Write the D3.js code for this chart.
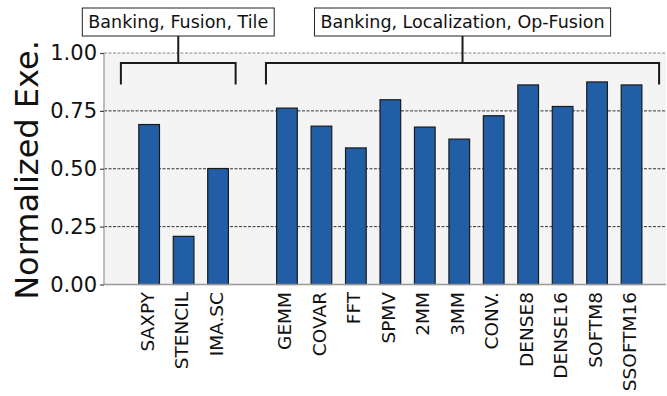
<!DOCTYPE html>
<html>
<head>
<meta charset="utf-8">
<script src="https://cdn.jsdelivr.net/npm/d3@7"></script>
<style>
  html, body { margin: 0; padding: 0; background: #ffffff; }
  svg { display: block; font-family: "DejaVu Sans", sans-serif; }
</style>
</head>
<body>
<svg id="chart" width="667" height="396"></svg>
<script>
// Benchmarks and their slot positions (slot 3 left empty between the groups)
const benchmarks = ["SAXPY", "STENCIL", "IMA.SC", "GEMM", "COVAR", "FFT", "SPMV", "2MM", "3MM", "CONV.", "DENSE8", "DENSE16", "SOFTM8", "SSOFTM16"];
const slots = [0, 1, 2, 4, 5, 6, 7, 8, 9, 10, 11, 12, 13, 14];
const normExe = [0.691, 0.208, 0.501, 0.762, 0.684, 0.590, 0.798, 0.680, 0.628, 0.729, 0.862, 0.769, 0.875, 0.862];
const yTicks = [0, 0.25, 0.5, 0.75, 1.0];

// Optimization groups shown as brackets above the bars
const groupLabels = ["Banking, Fusion, Tile", "Banking, Localization, Op-Fusion"];
const groupStart = [-0.82, 3.39];
const groupEnd = [2.51, 14.8];

const svg = d3.select("#chart");
const margin = { left: 104, right: 1, top: 53, bottom: 111.5 };
const W = 667, H = 396;
const plotW = W - margin.left - margin.right;
const plotH = H - margin.top - margin.bottom;

const x = d3.scaleLinear().domain([-1.31, 15.0]).range([0, plotW]);
const y = d3.scaleLinear().domain([0, 1.0]).range([plotH, 0]);
const barW = x(0.6) - x(0);

const g = svg.append("g").attr("transform", `translate(${margin.left},${margin.top})`);

// plot background
g.append("rect").attr("x", 0).attr("y", 0).attr("width", plotW).attr("height", plotH).attr("fill", "#f4f4f4");

// dashed gridlines
g.selectAll(".grid").data(yTicks.filter(t => t > 0)).enter().append("line")
  .attr("x1", 0).attr("x2", plotW)
  .attr("y1", d => y(d)).attr("y2", d => y(d))
  .attr("stroke", d => d === 1 ? "#888" : "#333")
  .attr("stroke-width", 1)
  .attr("stroke-dasharray", "3,1.5");

// bars
g.selectAll(".bar").data(benchmarks).enter().append("rect")
  .attr("x", (d, i) => x(slots[i]) - barW / 2)
  .attr("y", (d, i) => y(normExe[i]))
  .attr("width", barW)
  .attr("height", (d, i) => y(0) - y(normExe[i]))
  .attr("fill", "#215ea6")
  .attr("stroke", "#1a1a1a")
  .attr("stroke-width", 1.2);

// spines
g.append("line").attr("x1", 0).attr("x2", 0).attr("y1", 0).attr("y2", plotH).attr("stroke", "#aaa").attr("stroke-width", 1.5);
g.append("line").attr("x1", 0).attr("x2", plotW).attr("y1", plotH).attr("y2", plotH).attr("stroke", "#999").attr("stroke-width", 1.5);

// y axis
const yAxis = d3.axisLeft(y).tickValues(yTicks).tickFormat(d3.format(".2f")).tickSize(4).tickPadding(3);
const ya = g.append("g").call(yAxis);
ya.select(".domain").remove();
ya.selectAll(".tick line").attr("stroke", "#444").attr("stroke-width", 1.2);
ya.selectAll(".tick text").attr("font-size", 21).attr("fill", "#111").attr("font-family", "DejaVu Sans");

// x axis labels, rotated
const xa = g.append("g").attr("transform", `translate(0,${plotH})`);
xa.selectAll("text").data(benchmarks).enter().append("text")
  .attr("transform", (d, i) => `translate(${x(slots[i]) + 4.5},7.5) rotate(-90)`)
  .attr("text-anchor", "end")
  .attr("font-size", 18.5)
  .attr("fill", "#111")
  .text(d => d);

// y axis title
svg.append("text")
  .attr("transform", `translate(38,170) rotate(-90)`)
  .attr("text-anchor", "middle")
  .attr("font-size", 32)
  .attr("fill", "#111")
  .text("Normalized Exe.");

// group brackets with labeled boxes
const bracketY = y(0.957), bracketDrop = y(0.864), boxBottom = 36 - margin.top, boxTop = 8 - margin.top;
groupLabels.forEach((lab, k) => {
  const x0 = x(groupStart[k]), x1 = x(groupEnd[k]);
  const mid = (x0 + x1) / 2;
  g.append("path")
    .attr("d", `M${x0},${bracketDrop}V${bracketY}H${x1}V${bracketDrop}`)
    .attr("fill", "none").attr("stroke", "#1a1a1a").attr("stroke-width", 2);
  g.append("line").attr("x1", mid).attr("x2", mid).attr("y1", bracketY).attr("y2", boxBottom)
    .attr("stroke", "#1a1a1a").attr("stroke-width", 2);
  const box = g.append("rect");
  const t = g.append("text").attr("x", mid).attr("y", (boxTop + boxBottom) / 2 + 6)
    .attr("text-anchor", "middle").attr("font-size", 17.5).attr("fill", "#111").text(lab);
  const bb = t.node().getBBox();
  box.attr("x", bb.x - 6).attr("y", boxTop).attr("width", bb.width + 12).attr("height", boxBottom - boxTop)
    .attr("fill", "#fff").attr("stroke", "#222").attr("stroke-width", 1);
});
</script>
</body>
</html>
